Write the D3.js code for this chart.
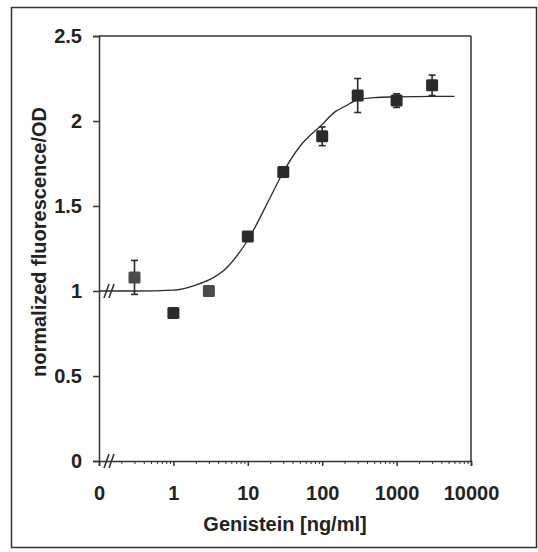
<!DOCTYPE html>
<html>
<head>
<meta charset="utf-8">
<script src="https://cdn.jsdelivr.net/npm/d3@7"></script>
<style>
  html, body { margin: 0; padding: 0; background: #fff; }
  svg { display: block; }
  text { font-family: "Liberation Sans", Arial, sans-serif; font-weight: bold; fill: #222; }
</style>
</head>
<body>
<svg id="chart" width="538" height="552"></svg>
<script>
// Genistein concentrations (ng/ml) and measured response
const conc = [0.3, 1, 3, 10, 30, 100, 300, 1000, 3000];
const meanValue = [1.08, 0.87, 1.00, 1.32, 1.70, 1.91, 2.15, 2.12, 2.21];
const errValue = [0.10, 0.01, 0.01, 0.02, 0.02, 0.055, 0.10, 0.04, 0.06];

// fitted dose-response curve, sampled along the concentration axis
const fitConc = [0.1, 0.3, 1, 2, 3, 5, 10, 20, 30, 50, 100, 150, 200, 300, 500, 1000, 3000, 6000];
const fitValue = [1.0, 1.0, 1.005, 1.035, 1.065, 1.13, 1.30, 1.55, 1.70, 1.85, 1.98, 2.055, 2.085, 2.125, 2.138, 2.142, 2.145, 2.145];

// axis ticks
const xTickValues = [0.1, 1, 10, 100, 1000, 10000];
const xTickLabels = ["0", "1", "10", "100", "1000", "10000"];
const yTickValues = [0, 0.5, 1, 1.5, 2, 2.5];
const yTickLabels = ["0", "0.5", "1", "1.5", "2", "2.5"];

const svg = d3.select("#chart");
const plotL = 99, plotR = 471, plotT = 36, plotB = 461;
const fontStack = "'Liberation Sans', Arial, sans-serif";

const x = d3.scaleLog().domain([0.1, 10000]).range([plotL, plotR]);
const y = d3.scaleLinear().domain([0, 2.5]).range([plotB, plotT]);

// outer frame
svg.append("rect").attr("x", 11.5).attr("y", 7.5).attr("width", 525).attr("height", 540)
  .attr("fill", "none").attr("stroke", "#333").attr("stroke-width", 1.5);

const ink = "#333";

// plot box: top and right edges
svg.append("line").attr("x1", plotL).attr("x2", plotR).attr("y1", plotT).attr("y2", plotT)
  .attr("stroke", ink).attr("stroke-width", 1.5);
svg.append("line").attr("x1", plotR).attr("x2", plotR).attr("y1", plotT).attr("y2", plotB)
  .attr("stroke", ink).attr("stroke-width", 1.5);

// y axis
const yAxis = d3.axisLeft(y).tickValues(yTickValues)
  .tickFormat((d, i) => yTickLabels[i]).tickSize(6).tickPadding(11);
const gy = svg.append("g").attr("transform", `translate(${plotL},0)`).call(yAxis);
gy.select(".domain").attr("stroke", ink).attr("stroke-width", 1.5);
gy.selectAll(".tick line").attr("stroke", ink).attr("stroke-width", 1.5);
gy.selectAll(".tick text").attr("font-size", 20).attr("fill", "#222")
  .style("font-family", fontStack).style("font-weight", "bold");

// x axis: decades with minor ticks
const minor = [];
for (let e = -1; e < 4; e++) for (let m = 2; m <= 9; m++) minor.push(m * Math.pow(10, e));
const xAxisMinor = d3.axisBottom(x).tickValues(minor).tickSize(3).tickFormat("");
const gxm = svg.append("g").attr("transform", `translate(0,${plotB})`).call(xAxisMinor);
gxm.select(".domain").remove();
gxm.selectAll(".tick line").attr("stroke", ink).attr("stroke-width", 1);

const xAxis = d3.axisBottom(x).tickValues(xTickValues)
  .tickFormat((d, i) => xTickLabels[i]).tickSize(5).tickPadding(20);
const gx = svg.append("g").attr("transform", `translate(0,${plotB})`).call(xAxis);
gx.select(".domain").attr("stroke", ink).attr("stroke-width", 1.5);
gx.selectAll(".tick line").attr("stroke", ink).attr("stroke-width", 1.5);
gx.selectAll(".tick text").attr("font-size", 20).attr("fill", "#222")
  .style("font-family", fontStack).style("font-weight", "bold");

// axis break marks (//)
[1, 0].forEach(v => {
  const cy = y(v);
  [0, 5].forEach(dx => {
    svg.append("line")
      .attr("x1", plotL + 5 + dx).attr("y1", cy + 7)
      .attr("x2", plotL + 10 + dx).attr("y2", cy - 7)
      .attr("stroke", ink).attr("stroke-width", 1.6);
  });
});

// fitted curve
const line = d3.line()
  .x((d, i) => x(fitConc[i]))
  .y((d, i) => y(fitValue[i]))
  .curve(d3.curveMonotoneX);
svg.append("path").datum(fitConc).attr("d", line)
  .attr("fill", "none").attr("stroke", "#2a2a2a").attr("stroke-width", 1.3);

// error bars
const cap = 3.5;
const eb = svg.append("g").attr("stroke", "#2a2a2a").attr("stroke-width", 1.6);
conc.forEach((c, i) => {
  const cx = x(c), y1 = y(meanValue[i] + errValue[i]), y0 = y(meanValue[i] - errValue[i]);
  eb.append("line").attr("x1", cx).attr("x2", cx).attr("y1", y1).attr("y2", y0);
  eb.append("line").attr("x1", cx - cap).attr("x2", cx + cap).attr("y1", y1).attr("y2", y1);
  eb.append("line").attr("x1", cx - cap).attr("x2", cx + cap).attr("y1", y0).attr("y2", y0);
});

// square markers
const s = 12;
svg.append("g").selectAll("rect").data(conc).join("rect")
  .attr("x", d => x(d) - s / 2)
  .attr("y", (d, i) => y(meanValue[i]) - s / 2)
  .attr("width", s).attr("height", s).attr("rx", 1.5)
  .attr("fill", (d, i) => (i === 0 || i === 2) ? "#4a4a4a" : "#2a2a2a");

// axis titles
svg.append("text")
  .attr("transform", `translate(46,242) rotate(-90)`)
  .attr("text-anchor", "middle")
  .attr("font-size", 20)
  .text("normalized fluorescence/OD");

svg.append("text")
  .attr("x", 285).attr("y", 531)
  .attr("text-anchor", "middle")
  .attr("font-size", 20)
  .attr("fill", "#333")
  .text("Genistein [ng/ml]");
</script>
</body>
</html>
